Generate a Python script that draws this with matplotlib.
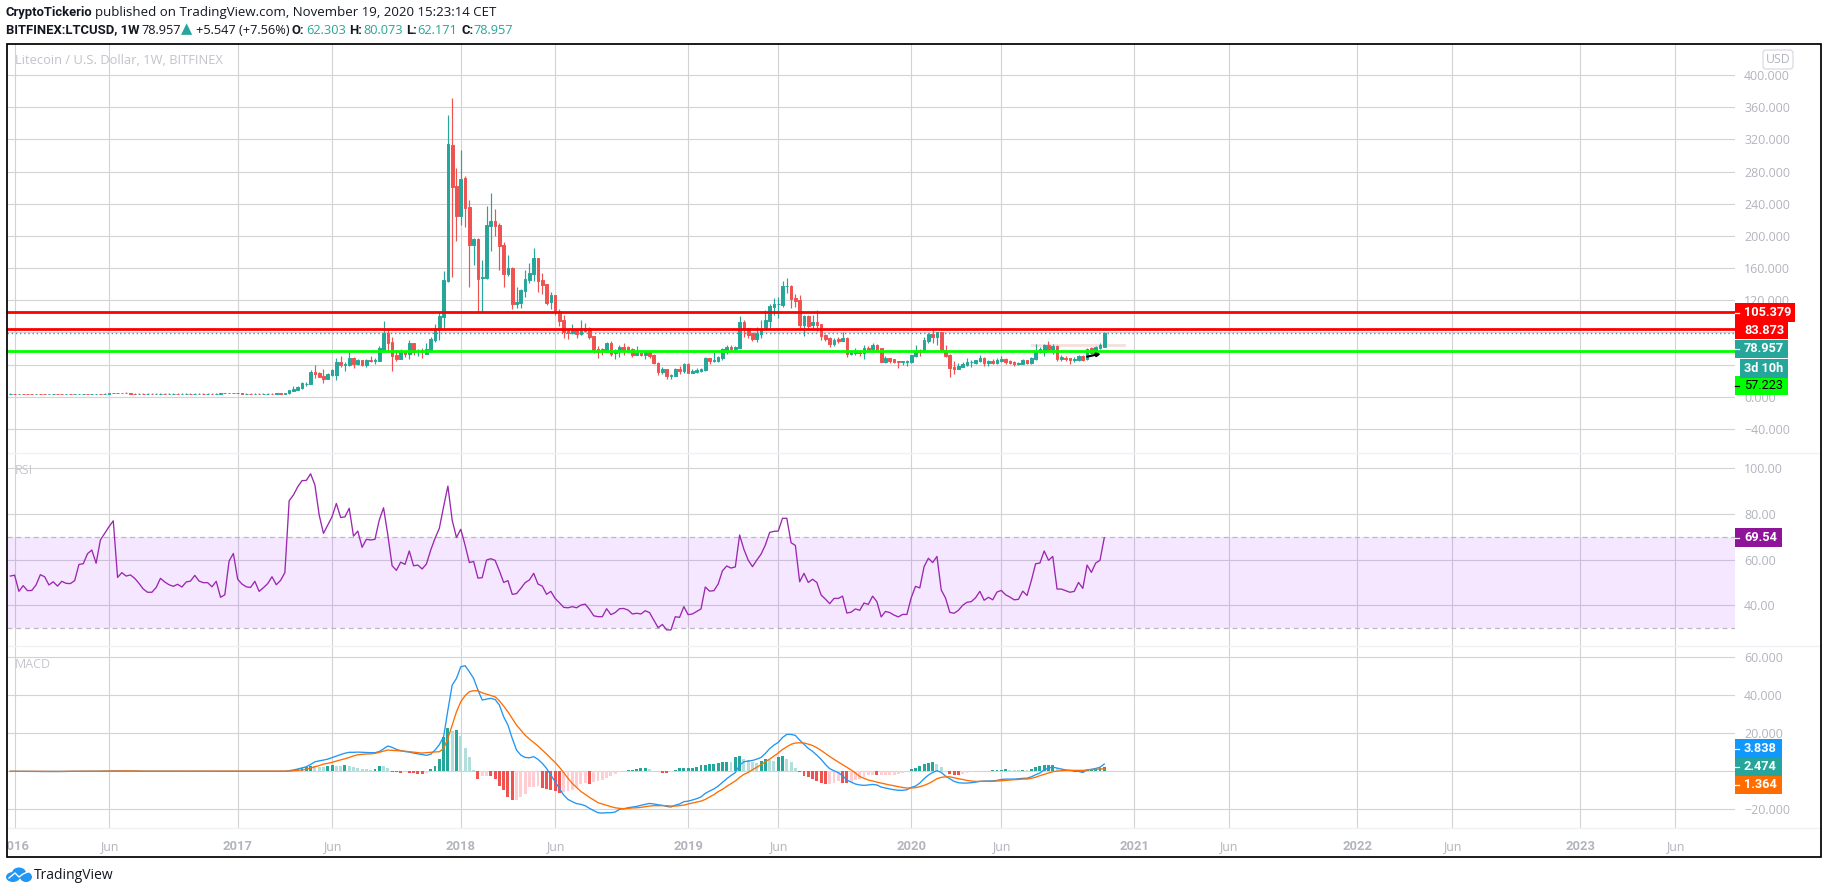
import numpy as np
import matplotlib
matplotlib.use("Agg")
import matplotlib.pyplot as plt
from matplotlib.patches import Rectangle, FancyBboxPatch, Ellipse
from matplotlib.lines import Line2D
from matplotlib.transforms import Affine2D, Bbox, TransformedBbox

W, H = 1828, 894
FONT = ['Open Sans', 'DejaVu Sans']
BOLD = ['Roboto', 'DejaVu Sans']
plt.rcParams['font.family'] = FONT

# ---------- weekly candles, first bar is the week before 2016-01-04 ----------
opens = [3.5,3.7,3.5,3.6,3.3,3.2,3.1,3.3,3.1,3.0,3.2,3.4,3.2,3.1,3.3,3.2,3.3,3.5,3.6,3.4,3.5,3.7,3.6,3.8,4.1,4.6,4.4,4.8,4.2,3.9,3.8,3.8,3.7,3.8,3.7,3.8,3.9,3.8,3.9,3.9,3.8,3.8,3.9,3.8,3.8,3.9,3.8,3.8,3.7,3.9,4.4,4.2,4.5,4.3,4.4,3.9,3.9,3.8,3.9,3.8,3.8,3.9,3.8,4.0,3.9,
 4.0,7,8.3,10.4,15.4,15.8,30.7,29.9,25.7,21.6,26.6,26.6,43.1,39.4,39.4,48.1,40.6,46,39.4,46,44.8,44.4,58,79.2,68,51.8,46.9,56,53.1,66.8,56.4,57.7,53.5,58.5,
 70.5,83.8,99.5,144,313,262,225,272,236,189,196,148,147.6,212.7,218.5,213.5,188.7,153,160,114.9,117,131.9,145.1,152.6,172.5,145,140,117.8,126.5,106.2,95.4,83,78.8,83,78,81.7,85,75.5,59.3,59.3,56,66.8,53.9,56.8,62.2,61.8,59.3,51.9,54,51.9,56,51.9,42.3,30.7,34.4,26.2,26.2,34.4,32,40.7,30,30.4,
 31.5,33.2,48.1,44.4,44.4,48.1,56,61.8,58.9,61,92.9,85,78.8,71.3,78,83.8,94.1,112,114.9,114,137.2,138,122.7,119.8,89.2,100.3,89.2,92.9,90.4,77.1,73,65.5,71.7,69.2,73,53,54,56.4,54.7,60.5,58.9,64.7,60.5,43.1,47.7,
 46.4,44,42.7,42.7,42.7,51,58.5,56.4,69.2,77.9,74.2,80.4,58.5,51.8,36.5,34.4,36.9,39.4,42.7,41.5,44,48.1,41.5,44.8,41.9,44.8,46.9,44.8,43.1,41,41,45.2,41.5,46.9,55.6,56,64.3,58.9,63,47.3,48.5,47.7,45.6,45.6,51,46.4,60,54.7,60.5,62.303]
highs = [4.0,3.9,3.8,3.8,3.5,3.4,3.5,3.5,3.3,3.4,3.6,3.6,3.4,3.5,3.5,3.5,3.7,3.8,3.8,3.7,3.9,3.9,4.0,4.3,4.8,4.9,5.1,5.3,4.4,4.1,4.0,4.0,4.0,4.0,4.0,4.1,4.1,4.1,4.1,4.1,4.0,4.1,4.1,4.0,4.1,4.1,4.0,4.0,4.1,4.6,4.7,4.7,4.8,4.6,4.5,4.2,4.1,4.1,4.1,4.0,4.1,4.1,4.2,4.2,4.3,
 8.5,13.3,12.9,17.9,18.3,33.2,39.4,31.1,34,29,34.4,47.7,51,43.5,56,49.8,46.9,46,47.3,51,48,63,94.1,84.2,74.2,58,58.9,57.2,70.5,66.8,59.7,60,67.2,73.8,
 90.4,106.6,156,350,371,284,307,274.5,244.6,197.8,197.4,170,237,253.4,233.4,216.4,193,176.2,161.3,136,134,157.2,166.3,185,172.5,153.8,140,130.2,126.5,109,101.6,83,90.8,83,95.4,91.6,86.3,75.5,63,60.6,68,69.2,58.9,64.3,66.8,63,60.6,63,54.3,57.7,58,53.1,43.6,37,34.4,28.2,35.7,38,42,42,34,35.2,
 35.3,48.9,48.5,55.6,50.6,61,64.3,64.3,63,100.3,95.4,85,78.8,86.7,95.4,107.8,115.3,122.7,123.6,143.9,147.2,138.9,127.7,126.5,101.6,101.6,101.6,107.8,90.4,78.4,74.6,72.6,73.8,80,73.8,58,60,58,63.9,63,66.4,65.5,60.5,50.2,48.5,
 46.4,44,44,45.6,52.2,64.3,58.9,73.8,79.6,83.8,80.4,80.4,64.3,52.7,44.4,41.5,42.7,47.7,45.6,45.6,51.8,48.9,45.6,46.9,47.7,50.2,48.5,45.6,44.8,43.1,46.9,45.6,48.9,65.5,61.4,65.5,69.2,65.5,64.3,51.8,50.6,48.1,49.3,51.8,51.8,60.5,61.4,63,66.3,80.073]
lows = [3.3,3.2,3.3,3.0,3.0,2.9,3.0,2.9,2.8,3.0,3.1,3.0,2.9,3.0,3.0,3.1,3.2,3.3,3.2,3.3,3.4,3.4,3.5,3.7,4.0,4.2,4.2,4.0,3.7,3.6,3.6,3.5,3.6,3.5,3.5,3.7,3.6,3.7,3.7,3.6,3.6,3.7,3.6,3.6,3.7,3.6,3.6,3.5,3.6,3.8,4.0,4.0,4.1,4.2,3.8,3.7,3.6,3.7,3.6,3.6,3.7,3.6,3.7,3.7,3.8,
 3.5,7,7.9,10,13.3,15.4,22.8,24,17,21.6,26.2,20.8,36.5,32,38.2,35.7,39,38.2,36.9,42.7,41,44.4,56.8,55.6,32,44.4,46.5,49,46.9,51.8,51,48.5,53.1,57.7,
 68,70.5,85,142.6,149,193.6,213.5,211.5,137,163.8,105.8,105.8,147,181,199.9,157.6,136.8,150.1,109.5,110.7,110.7,124.4,141.8,143.9,130.2,127.7,114,109.1,101.6,88,73,71.7,78,73,76.7,80.5,71.7,54.3,48.1,51.9,55.2,50.6,46.9,49.4,51.9,55.6,49.4,51.9,50.6,46.9,48.1,40.6,27,28.2,22,22,25.7,28,29,29,29,29,
 30.3,32,40.6,43.5,43.5,46,53.5,58,57,60.5,74.2,73,68.8,68.4,72.6,83,85,101.6,98.3,111.1,128.5,110.7,111.5,85.8,75.5,83.8,83.3,82.1,70.5,69.7,61.8,63.4,66.4,69,49.4,51.8,51.8,50.6,46.9,56,56,56,43.1,41.9,42.3,
 42.3,36,39,38.6,42.3,49.8,51,55.6,66.3,66.3,64.3,56,49.8,24.5,28.2,34,36.5,38,36.9,40.6,42.7,38.6,38.1,40.2,40.6,43.1,40.6,40.6,38.6,39.4,40.6,40.6,40.6,45.6,54.3,50.6,56.8,53,44.4,44.4,44.8,40.6,43.5,44.4,44.4,46,53,53,58.9,62.171]
closes = [3.7,3.5,3.6,3.3,3.2,3.1,3.3,3.1,3.0,3.2,3.4,3.2,3.1,3.3,3.2,3.3,3.5,3.6,3.4,3.5,3.7,3.6,3.8,4.1,4.6,4.4,4.8,4.2,3.9,3.8,3.8,3.7,3.8,3.7,3.8,3.9,3.8,3.9,3.9,3.8,3.8,3.9,3.8,3.8,3.9,3.8,3.8,3.7,3.9,4.4,4.2,4.5,4.3,4.4,3.9,3.9,3.8,3.9,3.8,3.8,3.9,3.8,4.0,3.9,4.0,
 8,10,12,17,16.2,30.7,28.2,24,22,28.2,33.2,43.1,39,40.6,48.1,40.6,46,39.4,46,44.4,46,60.5,79.2,66.4,51,46.4,57.2,53.1,66.8,56,57.2,55.6,59.3,71.3,
 85.4,100.4,145,314,261,225,271,234.7,189,196.5,146.4,149,213.5,218.5,212.7,187.8,153,160,114.9,117.8,132.7,146.4,153.4,172.5,144.3,139,116.5,126.5,106.2,94.1,80.9,78.8,83,78,85,85,74.3,58.5,56,58,66.8,53,58,61.8,58,56.8,51.9,54,51.9,56,50.6,41.9,30.7,34.4,26.2,27.4,34.4,32,40.7,30,32,33.2,
 34.4,48.1,44,45.6,49.4,58.9,61.8,58.9,61.8,92.9,82.5,76.7,71.3,78.8,83.8,95.4,112.8,115.3,115.3,137.7,137.7,121.9,119.4,89.2,100.3,88.3,92.9,88.7,75.5,71.3,65.5,70.5,69.2,73,53,56,55.6,54.7,60.5,57.6,64.7,58,43.1,48.1,44.4,
 43.1,43.1,44,44.4,51.8,58.5,56,70.5,77.9,74.2,80.4,56.8,51,35.7,34.4,38.1,40.2,43.1,43.5,45.6,48.1,41.5,44.4,42.3,46,46.4,43.1,42.3,40.6,42.3,45.6,41.5,48.1,57.2,58.9,64.3,57.2,63,46.4,48.9,46.9,45.6,46.9,50.6,46,58.9,54.3,61.8,63.9,78.957]

rsi_values = [52.8,53.2,46.1,48.6,46.4,46.5,48.9,53.4,52.5,48.9,50.3,48.4,50.5,49.6,49.5,50.8,57.9,58.2,62.6,64.2,58.4,68.6,71.5,74.4,77.0,52.2,54.3,52.8,53.3,51.8,49.6,47.1,45.7,45.7,47.8,51.8,50.2,49,48.3,49.2,48,50.2,50.6,53.1,50.6,49.9,49.9,48.1,50.5,43.5,44.6,59.4,62.7,51.4,49.3,48.1,47.8,50.5,46.1,47.7,49.5,52.5,49,50.9,54.3,
 85.8,88.3,91.9,94.6,94.7,97.6,92.7,79.5,71.5,75.1,78.8,84.6,78.5,78.7,82.5,70.3,72.5,65.4,68.9,68.6,68.9,77.3,82.7,70.8,57.3,55.3,58.9,57.9,63.8,57.3,57.6,55.9,58.1,64.2,69.3,73.7,83.2,92.2,77.3,69.7,73.3,66.4,58.7,59.2,51.9,52.1,59.8,60.4,59.7,55.1,50,50.8,44.8,45.1,47.4,49.9,51.1,54,49.3,48.4,44.8,46.1,43,41.1,39.1,38.9,39.4,38.9,40.1,40.5,38.2,35.4,35,35,38.5,35.9,36.8,38.5,
 38.6,37.9,36.2,36.5,36.2,37.6,36.8,33.5,30.2,31.6,29.2,29.2,35,34.7,39.4,35.9,36.2,37.3,38.4,48,46.2,46.4,49.3,55.1,57.2,56.3,56.8,70.8,64.5,59.8,56.9,59.8,62.4,66.4,71.9,72.4,72.5,78.1,78.1,67.4,66.2,50.3,54,50,51.4,50,44.5,42.7,40.7,43,43,44,36.6,37,38.4,37.8,41,40.4,44,41.6,34.9,37.3,36.8,35.7,34.9,36,36,43.3,48.3,47.6,56.9,60.6,58.7,61.4,46.7,43.2,36.9,36.5,37.8,40,41.3,41.6,43.3,46.1,42.2,43.5,42.4,45.8,46.5,44.6,43.6,42.4,42.6,46.2,44.3,50.8,58.2,58.5,63.8,59.7,61.4,47.1,47.1,46.4,45.7,46.1,50,47.4,57.6,54.4,58.5,59.7,69.54]

macd_values = [0,0,0,0,0,0,-0.05,-0.1,-0.1,-0.1,-0.1,-0.1,-0.05,-0.05,0,0,0,0.05,0.05,0.05,0.05,0.1,0.1,0.1,0.2,0.2,0.2,0.2,0.15,0.1,0.1,0.05,0.05,0.05,0,0,0,0,0,0,0,0,0,0,0,0,0,0,0,0.05,0.05,0.05,0.05,0.05,0.05,0,0,0,0,0,0,0,0,0,0,
 0.3,0.7,1.2,1.8,2.4,3.6,5,5.5,5.9,6.4,7.2,8,8.8,9.5,10,10,10.1,10,9.9,9.8,9.8,10.4,11.8,13.3,12.6,11.5,10.9,10.4,10.1,9.6,9.2,8.8,8.4,9,11.2,14,18.2,32.2,45.4,48.9,55,55.6,52.4,48.9,42.8,37.5,38,38.4,37.8,34.9,28.7,24.3,17.3,11.2,8.5,7.3,7.1,7.7,6.3,4.2,1.5,-2,-5.5,-9,-12.5,-14.8,-16,-17,-17.4,-18.1,-19.5,-20.7,-21.8,-22,-21.8,-21.8,-21.4,-20,
 -19.7,-19.2,-18.8,-18.5,-17.9,-17.4,-16.9,-17.2,-17.6,-17.9,-18.5,-18.8,-17.8,-17.2,-16,-15.7,-15.1,-14.4,-13.5,-11.6,-10.4,-9.3,-7.8,-5.8,-3.9,-2.2,-0.7,3.3,5,5.4,5.7,6.4,7.3,9.4,11.9,13.8,15.2,17.8,19.4,19.4,18.9,16.4,14.2,12.1,10.5,8.5,6.3,3.6,1.4,0.3,-0.7,-2.3,-4.6,-5.7,-6.7,-7.2,-7.4,-7.2,-6.9,-7.2,-8.3,-8.8,-9.3,-9.7,-10,-10,-9.7,-8.5,-7.8,-6.2,-3.9,-2,-0.6,0.3,-0.6,-2.5,-3.9,-5.3,-6,-6.2,-6.2,-6,-5.7,-5.3,-5.1,-5.1,-5,-4.8,-4.3,-4.1,-4.1,-4.1,-3.9,-3.7,-3.6,-2.9,-1.8,-0.9,0.8,1.7,2.2,1.7,1.2,0.7,0.5,0.1,-0.05,-0.6,0.7,1,1.5,2.1,3.838]

signal_values = [0,0,0,0,0,0,0,-0.05,-0.05,-0.05,-0.1,-0.1,-0.05,-0.05,0,0,0,0,0.05,0.05,0.05,0.05,0.1,0.1,0.1,0.15,0.2,0.2,0.2,0.15,0.1,0.1,0.05,0.05,0.05,0,0,0,0,0,0,0,0,0,0,0,0,0,0,0,0.05,0.05,0.05,0.05,0.05,0.05,0,0,0,0,0,0,0,0,0,
 0.1,0.3,0.5,0.7,1.1,1.7,2.4,3,3.8,4.2,4.7,5.4,6,6.6,7.3,8.1,8.7,8.9,9.1,9.2,9.4,10,10.6,11.2,11,10.9,10.7,10.6,10.3,10.1,9.8,9.6,9.8,10,10.2,10.3,12,17.3,24.3,31.3,36.6,39.8,41.9,42.4,42.4,41.3,40.6,39.9,39.2,37.1,34.3,31.3,27.8,24.3,21.7,19,17,15.2,13.3,11.2,9.1,6.8,4.7,2.1,-0.7,-3.7,-6.4,-8.5,-10.6,-12.1,-13.7,-15.1,-16.5,-17.2,-17.9,-18.6,-19.2,-19.5,
 -19.7,-19.5,-19.3,-19.2,-19,-18.6,-18.3,-18.1,-18.1,-18.1,-18.1,-18.3,-18.3,-18.1,-17.8,-17.2,-16.7,-16.2,-15.7,-14.8,-13.5,-12.3,-10.7,-9.5,-7.9,-6.5,-5.1,-3.2,-1.6,-0.6,0.8,2.1,3.5,5,6.4,8,9.6,11.5,12.9,14.2,14.9,15,14.9,14.3,13.6,12.4,11,9.4,7.8,6.3,4.9,3.5,2.1,0.7,-0.9,-2.7,-3.7,-4.6,-5.1,-5.7,-6.2,-6.7,-7.2,-7.6,-8.1,-8.5,-8.8,-8.8,-8.6,-8.1,-7.4,-6.5,-5.3,-3.9,-3.2,-2.9,-2.9,-3.4,-3.9,-4.3,-4.8,-5.1,-5.3,-5.3,-5.3,-5.3,-5.3,-5.1,-5,-4.8,-4.6,-4.4,-4.3,-4.1,-4.1,-3.7,-3.1,-2.3,-1.6,-0.9,-0.2,0.1,0.3,0.5,0.5,0.5,0.5,0.5,0.7,1,1,1.2,1.364]

hist_values = [0,0,0,0.05,-0.05,-0.05,-0.05,-0.05,-0.05,0,0,0,0,0,0,0.05,0.05,0,0,0.05,0.05,0.05,0.05,0.1,0.1,0.1,0.05,-0.05,-0.05,-0.05,-0.05,0,0,0,0,0,0,0,0,0,0,0,0,0,0,0,0,0,0,0.05,0.05,0,0,0,0,0,0,0,0,0,0,0,0,0,0,
 0.3,0.7,1.2,1.8,2.5,2.8,2.6,2.4,2.3,3,3.2,3,2.9,3.2,2.6,2.5,1.9,1.4,1.1,0.9,1.2,2.8,2.7,1.6,-0.2,-0.4,-0.9,-0.1,-0.9,-1.1,-1.3,-1.4,-0.8,1,2.8,6.5,18.3,22.6,21,21.8,18.8,12.4,7.5,0.8,-3.9,-2.6,-2.3,-2.6,-4,-7.9,-10,-13.7,-15.3,-15.2,-13.5,-11.8,-8.2,-8.1,-7.9,-9,-9.1,-10,-10.5,-11.2,-11,-10.4,-9.6,-8.2,-6.8,-6,-6.5,-5.8,-5.1,-4.4,-3.3,-2.6,-1.6,
 -0.5,0.2,0.5,0.7,1,1.6,1.7,1,0.2,0,-0.7,-0.9,-0.3,0.5,1.6,1.7,1.8,2,2.3,3.2,3.4,3.7,3.8,4.3,5,5.1,4.7,7.7,7.8,6.7,5.8,5,4.3,5.4,6.6,5.8,5.6,7.6,7.9,6.5,4.7,1.7,-0.5,-2.6,-3,-4,-4.9,-6.3,-6.6,-6.5,-6,-5.3,-6,-6.4,-5.6,-4.7,-3.8,-3,-2.2,-1.7,-2.2,-2.1,-2,-1.9,-1.8,-1.5,-0.9,0.1,1.2,1.8,3,3.8,4.6,5.1,3.8,2.5,0.3,-1.5,-2,-2.1,-1.5,-0.9,-0.5,-0.1,-0.1,0,0,0.5,0.7,0.8,1.1,0.8,0.75,0.7,0.9,0.7,1.3,2.5,2.7,3.3,3.4,3.5,1.8,1,0.4,0.1,-0.2,-0.3,-0.6,0.6,1,1.5,2,2.474]

price_ticks = [-40, 0, 40, 80, 120, 160, 200, 240, 280, 320, 360, 400]
rsi_ticks = [40, 60, 80, 100]
macd_ticks = [-20, 0, 20, 40, 60]
time_labels = ['2016','Jun','2017','Jun','2018','Jun','2019','Jun','2020','Jun','2021','Jun','2022','Jun','2023','Jun']
time_weeks = [0, 22, 52, 74, 104, 126, 157, 178, 209, 230, 261, 283, 313, 335, 365, 387]
level_red = [105.379, 83.873]
level_green = 57.223
last_close = 78.957
rsi_upper, rsi_lower = 70, 30

UP, DOWN = '#26a69a', '#ef5350'
GRID = '#d3d3d6'
TICK = '#b2b5be'
FS = 8.9

fig = plt.figure(figsize=(W / 100, H / 100), dpi=100, facecolor='white')
px = Affine2D().scale(1, -1).translate(0, H)

def pane(t, b):
    l, r = 7, 1735
    a = fig.add_axes([l / W, 1 - b / H, (r - l) / W, (b - t) / H])
    a.set_xlim((l - 14.6) / 4.29, (r - 14.6) / 4.29)
    for s in a.spines.values():
        s.set_visible(False)
    a.set_axisbelow(True)
    a.grid(True, color=GRID, lw=0.8)
    a.set_xticks(time_weeks)
    a.tick_params(axis='both', length=0, labelbottom=False, labelleft=False, labelright=True,
                  right=False, left=False, labelcolor=TICK, labelsize=FS, pad=6.5)
    a.patch.set_alpha(0)
    return a

def fmt(v, d):
    return (f"{v:.{d}f}").replace('-', '\u2212')

weeks = np.arange(len(closes)) - 1

# ---------- price pane ----------
ax = pane(44, 453)
ax.set_ylim((396.7 - 453) / 0.804, (396.7 - 44) / 0.804)
ax.set_yticks(price_ticks, [fmt(v, 3) for v in price_ticks])
o, h, l, c = map(np.array, (opens, highs, lows, closes))
cols = np.where(c >= o, UP, DOWN)
ax.vlines(weeks, l, h, colors=cols, lw=0.85, zorder=3)
ax.bar(weeks, np.abs(c - o), bottom=np.minimum(o, c), width=0.62, color=cols,
       edgecolor=cols, linewidth=0.7, zorder=3)
ax.add_patch(Rectangle((237, 62), 22, 3.6, facecolor='#f4d9d9', edgecolor='none', alpha=0.8, zorder=2.5))
for v in level_red:
    ax.axhline(v, color='#ff0000', lw=2.0, zorder=4)
ax.axhline(level_green, color='#00ff00', lw=2.0, zorder=4)
ax.axhline(last_close, color=UP, lw=1.0, ls=(0, (1, 2)), zorder=2.8)
ax.annotate('', xy=(253.2, 53.4), xytext=(250, 49.8),
            arrowprops=dict(arrowstyle='->', color='black', lw=1.5, mutation_scale=5, shrinkA=0, shrinkB=0), zorder=5)

# ---------- RSI pane ----------
ax2 = pane(453, 646)
ax2.set_ylim(100 - (646 - 468.3) / 2.283, 100 - (453 - 468.3) / 2.283)
ax2.set_yticks(rsi_ticks, [fmt(v, 2) for v in rsi_ticks])
ax2.axhspan(rsi_lower, rsi_upper, facecolor='#9915ff', alpha=0.1, edgecolor='none', zorder=1.5)
for v in (rsi_upper, rsi_lower):
    ax2.axhline(v, color='#bcb8c2', lw=0.9, ls=(0, (4, 3)), zorder=2)
ax2.plot(weeks, rsi_values, color='#9c27b0', lw=0.95, zorder=3)

# ---------- MACD pane ----------
ax3 = pane(646, 828)
ax3.set_ylim((771.3 - 828) / 1.9, (771.3 - 646) / 1.9)
ax3.set_yticks(macd_ticks, [fmt(v, 3) if v != 0 else '' for v in macd_ticks])
hv = np.array(hist_values)
prev = np.r_[hv[0], hv[:-1]]
hcols = np.where(hv >= 0, np.where(hv >= prev, '#26a69a', '#b2dfdb'),
                 np.where(hv < prev, '#ef5350', '#ffcdd2'))
ax3.bar(weeks, hv, width=0.68, color=hcols, zorder=2.5)
ax3.plot(weeks, macd_values, color='#2196f3', lw=0.95, zorder=3)
ax3.plot(weeks, signal_values, color='#ff6d00', lw=0.95, zorder=3.2)
ax3.tick_params(axis='x', labelbottom=True, pad=9)
ax3.set_xticks(time_weeks, time_labels)
clip = TransformedBbox(Bbox([[7, 0], [1821, H]]), Affine2D())
for tl, name in zip(ax3.get_xticklabels(), time_labels):
    tl.set_clip_box(clip)
    tl.set_clip_on(True)
    if name != 'Jun':
        tl.set_family(BOLD)
        tl.set_fontweight('bold')
        tl.set_fontsize(FS + 0.5)

# ---------- pane separators, frame ----------
for y in (453, 646, 828):
    fig.add_artist(Line2D([7, 1821], [y, y], transform=px, color='#eff2f5', lw=1))
fig.add_artist(Rectangle((6.5, 43.5), 1814.5, 813.5, transform=px, fill=False, edgecolor='black', lw=1.25, zorder=20))

def T(x, y, s, **kw):
    kw.setdefault('fontsize', FS)
    kw.setdefault('color', '#131722')
    return fig.text(x / W, 1 - y / H, s, va='center', **kw)

# ---------- header ----------
HFS = 9.4
T(6, 12.5, 'CryptoTickerio', fontweight='bold', fontsize=HFS, family=BOLD)
T(95, 12.5, 'published on TradingView.com, November 19, 2020 15:23:14 CET', fontsize=9.5)
T(6, 30, 'BITFINEX:LTCUSD, 1W', fontweight='bold', fontsize=HFS, family=BOLD)
T(141, 30, '78.957', fontsize=9.2)
T(181, 30, '\u25b2', color=UP, fontsize=10.5)
T(196, 30, '+5.547 (+7.56%)', fontsize=9.2)
for xl, lab, xv, val in ((292, 'O:', 306, '62.303'), (349, 'H:', 363, '80.073'),
                         (406, 'L:', 417, '62.171'), (461, 'C:', 473, '78.957')):
    T(xl, 30, lab, fontweight='bold', fontsize=HFS, family=BOLD)
    T(xv, 30, val, color=UP, fontsize=9.2)

# ---------- watermarks ----------
T(15, 60.5, 'Litecoin / U.S. Dollar, 1W, BITFINEX', color='#c2c2cb', fontsize=9.3)
T(15, 471, 'RSI', color='#c6c6cf', fontsize=9)
T(15, 664, 'MACD', color='#c6c6cf', fontsize=9)

# ---------- right-hand tags ----------
def tag(x0, x1, t, b, s, bg, fg='white', tick=True, xt=1744):
    fig.add_artist(Rectangle((x0, t), x1 - x0, b - t, transform=px, facecolor=bg, edgecolor='none', zorder=10))
    if tick:
        fig.add_artist(Line2D([1735, 1739], [(t + b) / 2] * 2, transform=px, color=fg, lw=0.9, zorder=11))
    txt = T(xt, (t + b) / 2, s, color=fg, fontweight='bold' if fg == 'white' else 'normal', fontsize=9.2, family=BOLD)
    txt.set_zorder(12)

tag(1735, 1795, 303, 322, '105.379', '#ff0000')
tag(1735, 1788, 322, 339, '83.873', '#ff0000', tick=False)
tag(1735, 1788, 339.5, 358, '78.957', UP)
tag(1735, 1788, 376, 395, '57.223', '#00ff00', fg='black')
tag(1740, 1788, 359, 378, '3d 10h', UP, tick=False)
tag(1735, 1782, 528, 547, '69.54', '#8e1599')
tag(1735, 1782, 739, 758, '3.838', '#1098ff')
tag(1735, 1782, 758, 775.5, '2.474', UP)
tag(1735, 1782, 775.5, 794, '1.364', '#ff6d00')

# ---------- currency button ----------
fig.add_artist(FancyBboxPatch((1765, 52), 26, 15, boxstyle='round,pad=2,rounding_size=3', transform=px,
                              facecolor='white', edgecolor='#dcd8e4', lw=0.9, zorder=8))
u = T(1778, 59.5, 'USD', color=TICK, ha='center', fontsize=8.8)
u.set_zorder(9)

# ---------- logo ----------
LOGO = '#2196f3'
for cx, cy, rx, ry in ((13, 877, 7, 5), (19, 873, 7, 5.5), (26, 877, 6, 5)):
    fig.add_artist(Ellipse((cx, cy), 2 * rx, 2 * ry, transform=px, facecolor=LOGO, edgecolor='none', zorder=5))
fig.add_artist(Line2D([9, 15, 19, 23, 30], [878, 873, 877, 874, 871], transform=px, color='white', lw=1.0, zorder=6))
T(34, 875.5, 'TradingView', fontsize=10)

fig.savefig('out.png', dpi=100)
